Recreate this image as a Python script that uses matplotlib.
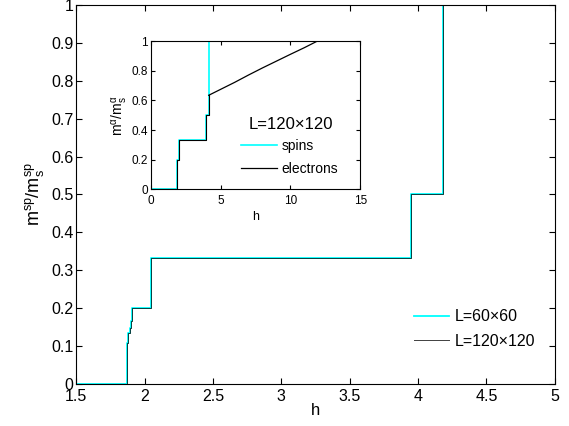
import numpy as np
import matplotlib.pyplot as plt

plt.rcParams['font.family'] = ['Liberation Sans', 'DejaVu Sans']
plt.rcParams['mathtext.fontset'] = 'custom'
plt.rcParams['mathtext.rm'] = 'Liberation Sans'

# main panel: magnetization steps (step edges in h, level after each edge)
h_edges = [1.5, 1.871, 1.879, 1.890, 1.898, 1.905, 2.044, 3.950, 4.180, 5.0]
m_small = [0.0, 0.108, 0.135, 0.148, 0.165, 0.20, 0.333, 0.50, 1.0, 1.0]
m_large = [0.0, 0.108, 0.135, 0.148, 0.165, 0.20, 0.333, 0.50, 1.0, 1.0]

# inset: spins vs electrons, L=120x120
h_in_steps = [0.0, 1.85, 1.90, 2.03, 3.93, 4.15]
m_in_steps = [0.0, 0.20, 0.20, 0.333, 0.50, 0.635]
h_el = [4.15, 5, 6, 7, 8, 9, 10, 11, 11.9, 15]
m_el = [0.635, 0.675, 0.722, 0.772, 0.82, 0.866, 0.912, 0.957, 1.0, 1.0]

fig = plt.figure(figsize=(5.69, 4.26), dpi=100)
ax = fig.add_axes([0.134, 0.099, 0.841, 0.889])

ax.step(h_edges, m_small, where='post', color='cyan', lw=1.3, label='L=60×60')
ax.step(h_edges, m_large, where='post', color='black', lw=0.7, alpha=0.75,
        label='L=120×120')
ax.set_xlim(1.5, 5)
ax.set_ylim(0, 1)
ax.set_xticks(np.arange(1.5, 5.01, 0.5))
ax.set_xticklabels(['1.5', '2', '2.5', '3', '3.5', '4', '4.5', '5'])
ax.set_yticks(np.arange(0, 1.01, 0.1))
ax.set_yticklabels(['0', '0.1', '0.2', '0.3', '0.4', '0.5', '0.6', '0.7', '0.8', '0.9', '1'])
ax.tick_params(direction='in', top=True, right=True, labelsize=11.5, length=4, pad=2)
ax.tick_params(axis='x', pad=4)
ax.set_xlabel('h', fontsize=12, labelpad=-1)
ax.set_ylabel(r'$\mathregular{m^{sp}/m_s^{sp}}$', fontsize=13, labelpad=3)
for s in ax.spines.values():
    s.set_linewidth(0.8)
ax.legend(loc='center left', frameon=False, fontsize=11.5, handlelength=2.2,
          bbox_to_anchor=(0.675, 0.145), labelspacing=0.6, handletextpad=0.35)

# inset
axi = fig.add_axes([0.265, 0.556, 0.368, 0.347])
h_sp = h_in_steps + [4.15, 15]
m_sp = m_in_steps + [1.0, 1.0]
axi.step(h_sp, m_sp, where='post', color='cyan', lw=1.2, label='spins')
axi.step(h_in_steps + [4.15], m_in_steps + [0.635], where='post', color='black', lw=0.8)
axi.plot(h_el, m_el, color='black', lw=0.9, label='electrons')
axi.set_xlim(0, 15)
axi.set_ylim(0, 1)
axi.set_xticks([0, 5, 10, 15])
axi.set_yticks([0, 0.2, 0.4, 0.6, 0.8, 1])
axi.set_yticklabels(['0', '0.2', '0.4', '0.6', '0.8', '1'])
axi.tick_params(direction='in', top=True, right=True, labelsize=8.5, length=3, pad=2)
axi.tick_params(axis='x', pad=4)
axi.set_xlabel('h', fontsize=9, labelpad=3)
axi.set_ylabel(r'$\mathregular{m^{\alpha}/m_s^{\alpha}}$', fontsize=10, labelpad=1)
axi.text(0.465, 0.44, 'L=120×120', transform=axi.transAxes, fontsize=12, va='center')
axi.legend(loc='center left', frameon=False, fontsize=10, handlelength=2.6,
           bbox_to_anchor=(0.37, 0.215), labelspacing=0.65, handletextpad=0.35)

fig.savefig('out.png', dpi=100)
